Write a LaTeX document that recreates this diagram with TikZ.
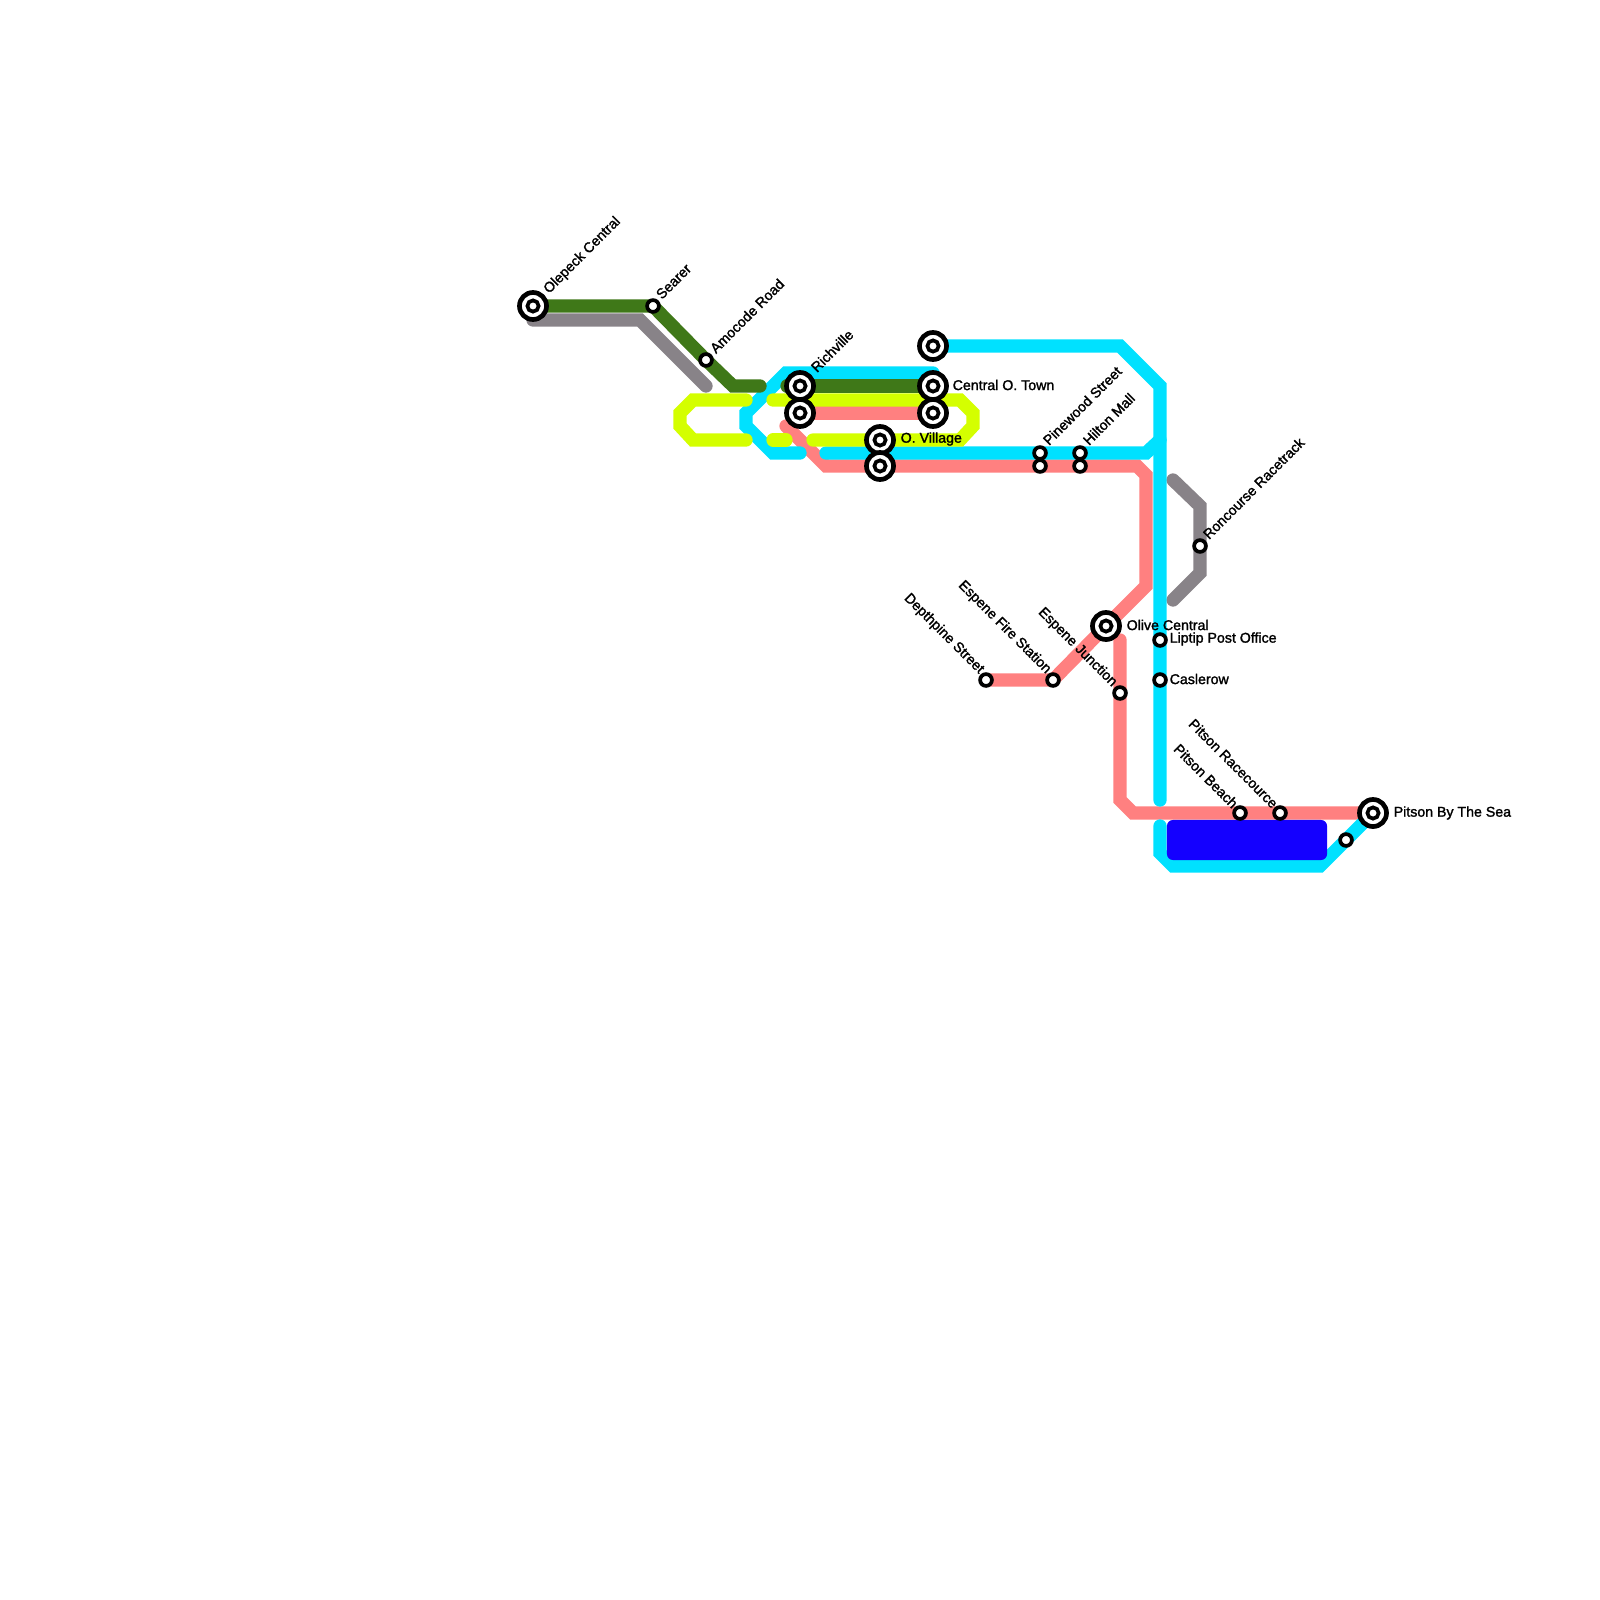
\documentclass[tikz,border=0pt]{standalone}
\usepackage{fontspec}
\setmainfont{Liberation Sans}[FakeBold=1.6]
\definecolor{mgreen}{HTML}{3F7818}
\definecolor{mgrey}{HTML}{888388}
\definecolor{mlime}{HTML}{D4FF00}
\definecolor{mcyan}{HTML}{00E1FF}
\definecolor{mred}{HTML}{FF8080}
\definecolor{mblue}{HTML}{1400FF}
\usetikzlibrary{backgrounds}
\begin{document}
\begin{tikzpicture}[x=0.01cm,y=-0.01cm]
\tikzset{
 m/.style={line width=0.133cm,line cap=round},
 big/.style={circle,draw=black,fill=white,line width=0.047cm,inner sep=0pt,minimum size=0.27cm,
  path picture={\draw[line width=0.037cm] (path picture bounding box.center) circle (0.056cm);}},
 stn/.style={circle,draw=black,fill=white,line width=0.037cm,inner sep=0pt,minimum size=0.118cm},
 lbl/.style={inner sep=0pt,font=\fontsize{4.03pt}{4.5pt}\selectfont,text=black}
}
\useasboundingbox (0,0) rectangle (1600,1600);
% stations
\node[big] (olepeck) at (533,306) {};
\node[stn] (searer) at (653,306) {};
\node[stn] (amocode) at (706,360) {};
\node[big] (richA) at (800,386) {};
\node[big] (richB) at (800,413) {};
\node[big] (cenA) at (933,346) {};
\node[big] (cenB) at (933,386) {};
\node[big] (cenC) at (933,413) {};
\node[big] (vilA) at (880,440) {};
\node[big] (vilB) at (880,466) {};
\node[stn] (pineA) at (1040,453) {};
\node[stn] (pineB) at (1040,466) {};
\node[stn] (hiltA) at (1080,453) {};
\node[stn] (hiltB) at (1080,466) {};
\node[stn] (ronc) at (1200,546) {};
\node[big] (olive) at (1106,626) {};
\node[stn] (liptip) at (1160,640) {};
\node[stn] (casl) at (1160,680) {};
\node[stn] (depth) at (986,680) {};
\node[stn] (fire) at (1053,680) {};
\node[stn] (junc) at (1120,693) {};
\node[stn] (beach) at (1240,813) {};
\node[stn] (race) at (1280,813) {};
\node[big] (sea) at (1373,813) {};
\node[stn] (bay) at (1346,840) {};
% labels
\node[lbl,rotate=45,anchor=west] (olepeckL) at (546,292) {Olepeck Central};
\node[lbl,rotate=45,anchor=west] (searerL) at (658,297) {Searer};
\node[lbl,rotate=45,anchor=west] (amocodeL) at (712,351) {Amocode Road};
\node[lbl,rotate=45,anchor=west] (richL) at (813,370) {Richville};
\node[lbl,anchor=west] (cenL) at (952,385) {Central O. Town};
\node[lbl,anchor=west] (vilL) at (900,439) {O. Village};
\node[lbl,rotate=45,anchor=west] (pineL) at (1045,443) {Pinewood Street};
\node[lbl,rotate=45,anchor=west] (hiltL) at (1085,443) {Hilton Mall};
\node[lbl,rotate=45,anchor=west] (roncL) at (1205,537) {Roncourse Racetrack};
\node[lbl,anchor=west] (oliveL) at (1126,625) {Olive Central};
\node[lbl,anchor=west] (liptipL) at (1169,639) {Liptip Post Office};
\node[lbl,anchor=west] (caslL) at (1169,679) {Caslerow};
\node[lbl,rotate=-45,anchor=east] (depthL) at (982,672) {Depthpine Street};
\node[lbl,rotate=-45,anchor=east] (fireL) at (1049,672) {Espene Fire Station};
\node[lbl,rotate=-45,anchor=east] (juncL) at (1115,685) {Espene Junction};
\node[lbl,rotate=-45,anchor=east] (beachL) at (1236,806) {Pitson Beach};
\node[lbl,rotate=-45,anchor=east] (raceL) at (1276,806) {Pitson Racecource};
\node[lbl,anchor=west] (seaL) at (1393,813) {Pitson By The Sea};
% bends and free ends
\coordinate (g1) at (733,386);
\coordinate (g2) at (760,386);
\coordinate (g3) at (787,386);
\coordinate (k1) at (533,320);
\coordinate (k2) at (640,320);
\coordinate (k3) at (706,386);
\coordinate (k4) at (1173,480);
\coordinate (k5) at (1200,506);
\coordinate (k6) at (1200,573);
\coordinate (k7) at (1173,600);
\coordinate (y1) at (746,400);
\coordinate (y2) at (693,400);
\coordinate (y3) at (680,413);
\coordinate (y4) at (680,426);
\coordinate (y5) at (693,440);
\coordinate (y6) at (746,440);
\coordinate (y7) at (773,400);
\coordinate (y8) at (960,400);
\coordinate (y9) at (973,413);
\coordinate (y10) at (973,426);
\coordinate (y11) at (960,440);
\coordinate (y12) at (813,440);
\coordinate (y13) at (773,440);
\coordinate (y14) at (786,440);
\coordinate (c1) at (933,373);
\coordinate (c2) at (786,373);
\coordinate (c3) at (746,413);
\coordinate (c4) at (746,426);
\coordinate (c5) at (773,453);
\coordinate (c6) at (800,453);
\coordinate (c7) at (826,453);
\coordinate (c8) at (1146,453);
\coordinate (c9) at (1160,440);
\coordinate (c10) at (1120,346);
\coordinate (c11) at (1160,386);
\coordinate (c12) at (1160,800);
\coordinate (c13) at (1160,826);
\coordinate (c14) at (1160,853);
\coordinate (c15) at (1173,866);
\coordinate (c16) at (1320,866);
\coordinate (r1) at (786,426);
\coordinate (r2) at (826,466);
\coordinate (r3) at (1137,466);
\coordinate (r4) at (1146,475);
\coordinate (r5) at (1146,586);
\coordinate (r6) at (1120,640);
\coordinate (r7) at (1120,800);
\coordinate (r8) at (1133,813);
% lines
\begin{scope}[on background layer]
\draw[m,mred] (richB.center)--(cenC.center);
\draw[m,mred] (r1)--(r2)--(vilB.center)--(pineB.center)--(hiltB.center)--(r3)--(r4)--(r5)--(olive.center)--(fire.center)--(depth.center);
\draw[m,mred] (r6)--(junc.center)--(r7)--(r8)--(beach.center)--(race.center)--(sea.center);
\draw[m,mgrey] (k1)--(k2)--(k3);
\draw[m,mgrey] (k4)--(k5)--(ronc.center)--(k6)--(k7);
\draw[m,mcyan] (c1)--(c2)--(c3)--(c4)--(c5)--(c6);
\draw[m,mcyan] (c7)--(pineA.center)--(hiltA.center)--(c8)--(c9);
\draw[m,mcyan] (cenA.center)--(c10)--(c11)--(liptip.center)--(casl.center)--(c12);
\draw[m,mcyan] (c13)--(c14)--(c15)--(c16)--(bay.center)--(sea.center);
\draw[m,mlime] (y1)--(y2)--(y3)--(y4)--(y5)--(y6);
\draw[m,mlime] (y7)--(y8)--(y9)--(y10)--(y11)--(vilA.center)--(y12);
\draw[m,mlime] (y13)--(y14);
\draw[m,mgreen] (olepeck.center)--(searer.center)--(amocode.center)--(g1)--(g2);
\draw[m,mgreen] (g3)--(richA.center)--(cenB.center);
\node[fill=mblue,rounded corners=0.06cm,minimum width=1.6cm,minimum height=0.4cm,inner sep=0pt] (lake) at (1247,840) {};
\end{scope}
\end{tikzpicture}
\end{document}
